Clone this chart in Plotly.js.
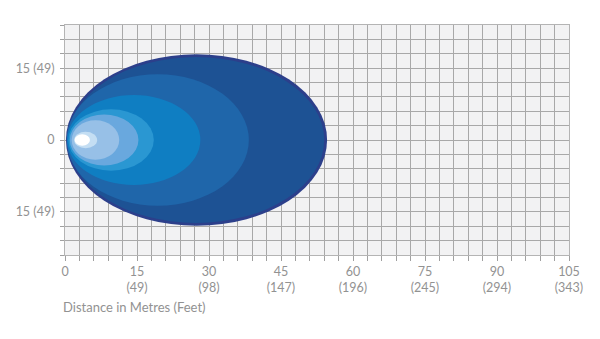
<!DOCTYPE html>
<html>
<head>
<meta charset="utf-8">
<script src="https://cdn.plot.ly/plotly-3.0.1.min.js"></script>
<style>html,body{margin:0;padding:0;background:#fff;}#chart{width:600px;height:339px;}</style>
</head>
<body>
<div id="chart"></div>
<script>
// Beam zones (outermost first): start/end distance in metres, half-width in metres
const zoneStart = [0.2, 0.6, 0.35, 0.45, 0.7, 1.0, 1.4, 1.9, 2.0];
const zoneEnd   = [54.6, 54.0, 38.3, 28.2, 18.5, 15.3, 11.3, 6.7, 5.2];
const zoneHalf  = [17.9, 17.3, 13.7, 9.4, 6.4, 5.3, 4.1, 1.7, 1.2];
const zoneColors = ['#2c3f8b', '#1d5294', '#1f66aa', '#0f7ec2', '#2a97d2', '#69a8de', '#97c0e7', '#c4def3', '#ffffff'];

// Axis ticks
const xTickVals = [0,3,6,9,12,15,18,21,24,27,30,33,36,39,42,45,48,51,54,57,60,63,66,69,72,75,78,81,84,87,90,93,96,99,102,105];
const xLabelMetres = [0, 15, 30, 45, 60, 75, 90, 105];
const xLabelFeet   = [0, 49, 98, 147, 196, 245, 294, 343];
const yTickVals = [-24,-21,-18,-15,-12,-9,-6,-3,0,3,6,9,12,15,18,21,24];
const yLabelVals = [15, 0, -15];
const yLabelText = ['15 (49)', '0', '15 (49)'];

const xTickText = xTickVals.map(v => {
  const i = xLabelMetres.indexOf(v);
  if (i < 0) return '';
  return v === 0 ? '0' : v + '<br>(' + xLabelFeet[i] + ')';
});
const yTickText = yTickVals.map(v => {
  const i = yLabelVals.indexOf(v);
  return i < 0 ? '' : yLabelText[i];
});

const shapes = zoneStart.map((s, i) => ({
  type: 'circle', xref: 'x', yref: 'y', layer: 'above',
  x0: s, x1: zoneEnd[i], y0: -zoneHalf[i], y1: zoneHalf[i],
  fillcolor: zoneColors[i], line: {width: 0}
}));

const font = {family: 'Lato, "Open Sans", sans-serif', size: 12.5, color: '#929292'};

const layout = {
  width: 600, height: 339,
  margin: {l: 65, r: 31, t: 25, b: 84},
  paper_bgcolor: '#ffffff', plot_bgcolor: '#f2f2f3',
  font: font,
  showlegend: false,
  xaxis: {
    range: [0, 105], fixedrange: true,
    tickmode: 'array', tickvals: xTickVals, ticktext: xTickText,
    showgrid: true, gridcolor: '#a8a8a8', gridwidth: 1,
    zeroline: false,
    showline: true, linecolor: '#b4b4b4', linewidth: 1, mirror: true,
    ticks: 'outside', ticklen: 5, tickcolor: '#a0a0a0', tickwidth: 1,
    tickfont: font
  },
  yaxis: {
    range: [-24, 24], fixedrange: true,
    tickmode: 'array', tickvals: yTickVals, ticktext: yTickText,
    showgrid: true, gridcolor: '#a8a8a8', gridwidth: 1,
    zeroline: false,
    showline: true, linecolor: '#b4b4b4', linewidth: 1, mirror: true,
    ticks: 'outside', ticklen: 4, tickcolor: '#a0a0a0', tickwidth: 1,
    ticklabelstandoff: 3,
    tickfont: font
  },
  shapes: shapes,
  annotations: [{
    text: 'Distance in Metres (Feet)', xref: 'paper', yref: 'paper',
    x: 0, y: -0.228, xanchor: 'left', yanchor: 'middle', showarrow: false,
    xshift: -4, font: {family: font.family, size: 13, color: '#929292'}
  }]
};

Plotly.newPlot('chart', [{x: [], y: [], type: 'scatter', mode: 'markers', hoverinfo: 'skip'}], layout, {staticPlot: true, displayModeBar: false});
</script>
</body>
</html>
